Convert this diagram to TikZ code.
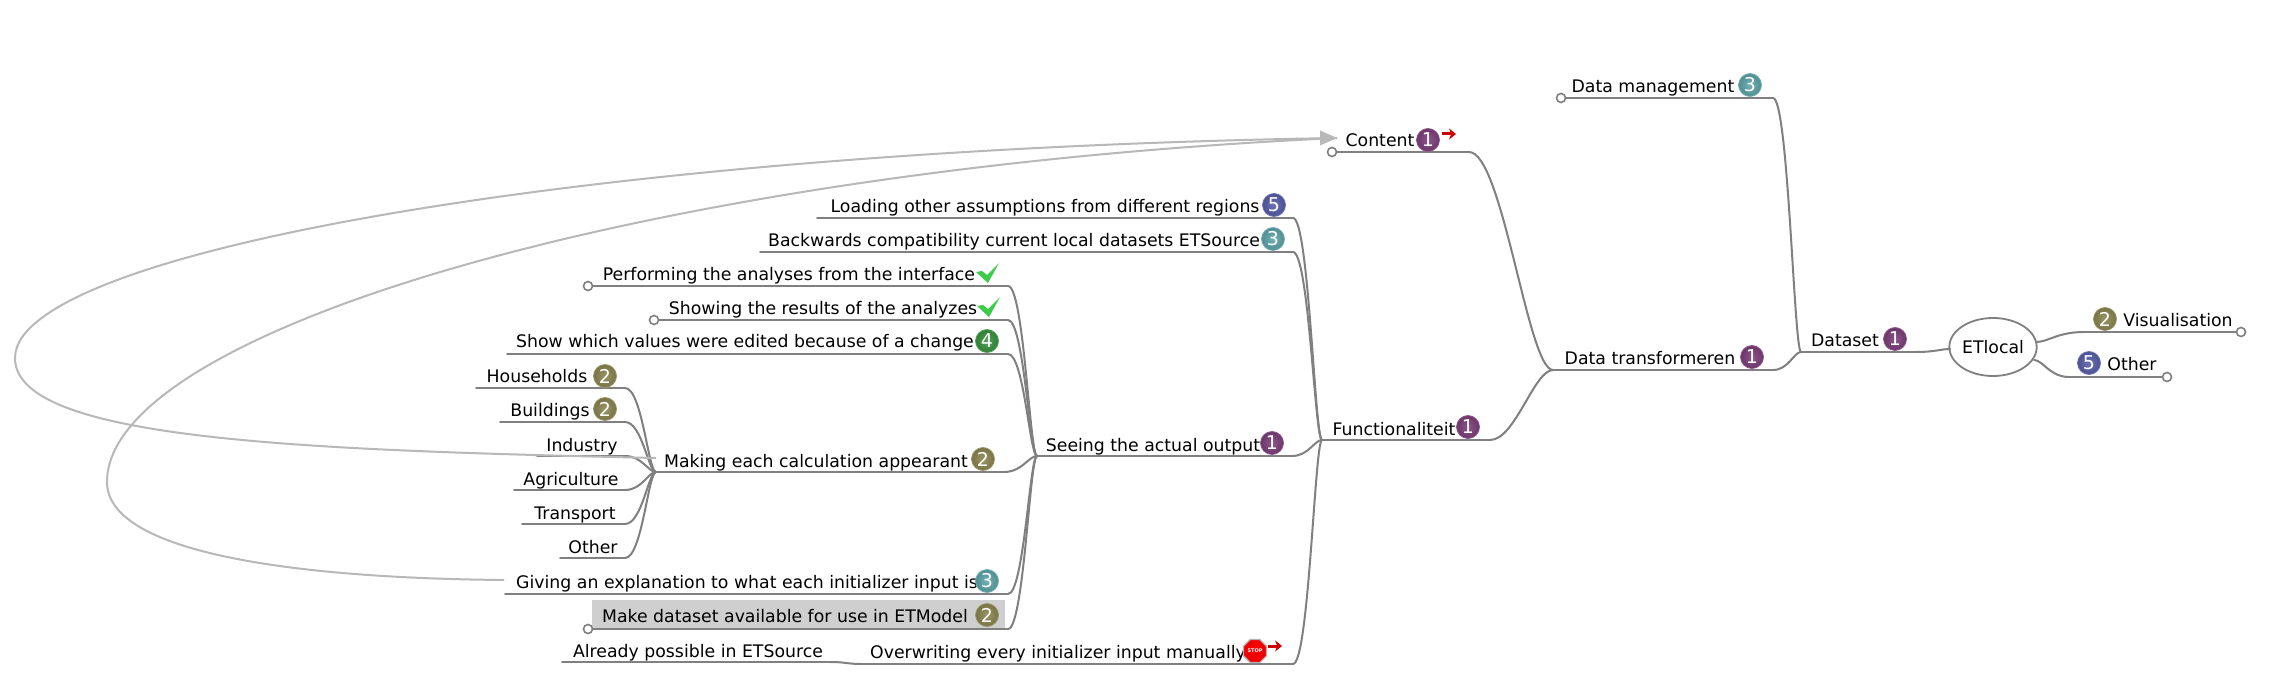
\documentclass[tikz,border=0pt]{standalone}
\usepackage{fontspec}
\setmainfont{DejaVu Sans}
\usetikzlibrary{calc,arrows.meta,shapes.geometric}
\definecolor{edgegray}{HTML}{808080}
\definecolor{relgray}{HTML}{B8B8B8}
\definecolor{hl}{HTML}{CFCFCF}
\definecolor{pa}{HTML}{7E3F7C}
\definecolor{pb}{HTML}{8C8750}
\definecolor{pc}{HTML}{5FA6AA}
\definecolor{pd}{HTML}{3A9440}
\definecolor{pe}{HTML}{585EAA}
\definecolor{tickgreen}{HTML}{3DCB4A}
\tikzset{
  edge/.style={draw=edgegray,line width=2pt,line cap=round},
  branch/.style={to path={let \p1=(\tikztostart),\p2=(\tikztotarget) in
    .. controls ({\x1+0.55*(\x2-\x1)},\y1) and ({\x1+0.75*(\x2-\x1)},\y2) .. (\tikztotarget)}},
  widebranch/.style={to path={let \p1=(\tikztostart),\p2=(\tikztotarget) in
    .. controls ({\x1+0.4*(\x2-\x1)},\y1) and ({\x1+0.7*(\x2-\x1)},\y2) .. (\tikztotarget)}},
  label/.style={inner sep=0pt,anchor=base,font=\fontsize{17.3}{20}\selectfont,text=black},
  ballicon/.style={circle,inner sep=0pt,minimum size=23pt,text=white,font=\fontsize{19}{20}\selectfont},
  endcircle/.style={circle,draw=edgegray,fill=white,line width=1.6pt,inner sep=0pt,minimum size=9pt},
  relation/.style={draw=relgray,line width=2pt},
  redarrow/.style={draw=red!80!black,line width=3pt,-{Stealth[length=7pt,width=11pt]}},
}
\newcommand{\topic}[7]{%
  \coordinate (#1L) at (#2,#4);
  \coordinate (#1R) at (#3,#4);
  \draw[edge] (#1L) -- (#1R);
  \node[label] (#1) at (#5,#6) {#7};
}
\newcommand{\icon}[5]{\node[ballicon,draw=#4!85!white,line width=0.8pt,inner color=#4!88!white,outer color=#4!85!black] (#1) at (#2,#3) {#5};}
\newcommand{\tick}[3]{\node[inner sep=0pt,minimum size=0pt] (#1) at (#2,#3) {};
  \fill[tickgreen] (#2-11,#3-1) -- (#2-5,#3-2) -- (#2,#3+2) -- (#2+12,#3-10) -- (#2+1,#3+10) -- cycle;}
\begin{document}
\begin{tikzpicture}[x=1pt,y=-1pt]
\useasboundingbox (0,0) rectangle (2294,700);
\fill[white] (0,0) rectangle (2294,700);
\fill[hl] (592,600) rectangle (1005,628);

% topics
\topic{dm}{1561}{1773}{98}{1653}{93}{Data management}
\topic{ct}{1332}{1469}{152}{1380}{147}{Content}
\topic{dt}{1553}{1773}{370}{1650}{365}{Data transformeren}
\topic{ds}{1801}{1916}{352}{1845}{347}{Dataset}
\topic{vi}{2084}{2241}{332}{2178}{327}{Visualisation}
\topic{ot}{2069}{2167}{377}{2132}{371}{Other}
\topic{fu}{1322}{1490}{440}{1394}{435}{Functionaliteit}
\topic{lo}{817}{1293}{218}{1045}{213}{Loading other assumptions from different regions}
\topic{ba}{760}{1293}{252}{1014}{247}{Backwards compatibility current local datasets ETSource}
\topic{pe}{588}{1008}{286}{789}{281}{Performing the analyses from the interface}
\topic{sh}{654}{1008}{320}{823}{315}{Showing the results of the analyzes}
\topic{sw}{507}{1008}{354}{745}{348}{Show which values were edited because of a change}
\topic{ho}{476}{625}{388}{537}{383}{Households}
\topic{bu}{500}{625}{422}{550}{417}{Buildings}
\topic{in}{537}{625}{456}{582}{451}{Industry}
\topic{ag}{514}{625}{490}{571}{485}{Agriculture}
\topic{tr}{522}{625}{524}{575}{519}{Transport}
\topic{oh}{560}{625}{558}{593}{553}{Other}
\topic{ma}{656}{1004}{472}{816}{467}{Making each calculation appearant}
\topic{se}{1037}{1292}{456}{1153}{451}{Seeing the actual output}
\topic{gi}{505}{1008}{594}{747}{588}{Giving an explanation to what each initializer input is}
\topic{mk}{588}{1008}{629}{785}{622}{Make dataset available for use in ETModel}
\topic{ov}{861}{1293}{664}{1058}{658}{Overwriting every initializer input manually}
\topic{al}{562}{831}{662}{698}{657}{Already possible in ETSource}

% root
\node[ellipse,draw=edgegray,fill=white,line width=1.8pt,minimum width=87pt,minimum height=58pt,inner sep=0pt,
  font=\fontsize{17.3}{20}\selectfont] (root) at (1993,347) {ETlocal};
\coordinate (rootL) at (1950,349);
\coordinate (rootRa) at (2036,342);
\coordinate (rootRb) at (2034,360);

% branches
\draw[edge] (dmR) to[branch] (dsL);
\draw[edge] (ctR) to[widebranch] (dtL);
\draw[edge] (fuR) to[widebranch] (dtL);
\draw[edge] (dtR) to[branch] (dsL);
\draw[edge] (dsR) to[branch] (rootL);
\draw[edge] (viL) to[branch] (rootRa);
\draw[edge] (otL) to[branch] (rootRb);
\draw[edge] (loR) to[branch] (fuL);
\draw[edge] (baR) to[branch] (fuL);
\draw[edge] (seR) to[branch] (fuL);
\draw[edge] (ovR) to[branch] (fuL);
\draw[edge] (peR) to[branch] (seL);
\draw[edge] (shR) to[branch] (seL);
\draw[edge] (swR) to[branch] (seL);
\draw[edge] (maR) to[branch] (seL);
\draw[edge] (giR) to[branch] (seL);
\draw[edge] (mkR) to[branch] (seL);
\draw[edge] (hoR) to[branch] (maL);
\draw[edge] (buR) to[branch] (maL);
\draw[edge] (inR) to[branch] (maL);
\draw[edge] (agR) to[branch] (maL);
\draw[edge] (trR) to[branch] (maL);
\draw[edge] (ohR) to[branch] (maL);
\draw[edge] (alR) .. controls (845,662) and (848,664) .. (ovL);

% fold circles
\node[endcircle] (c1) at (dmL) {};
\node[endcircle] (c2) at (ctL) {};
\node[endcircle] (c3) at (viR) {};
\node[endcircle] (c4) at (otR) {};
\node[endcircle] (c5) at (peL) {};
\node[endcircle] (c6) at (shL) {};
\node[endcircle] (c7) at (mkL) {};

% relations
\coordinate (relA) at (656,458);
\coordinate (relAm) at (15,358);
\coordinate (relB) at (504,580);
\coordinate (relBm) at (107,482);
\coordinate (relEnd) at (1337,138);
\draw[relation] (relA) .. controls (300,450) and (15,440) .. (relAm)
   .. controls (15,250) and (600,150) .. (relEnd);
\draw[relation] (relB) .. controls (280,578) and (107,550) .. (relBm)
   .. controls (107,330) and (650,170) .. (relEnd);
\fill[relgray] (relEnd) -- (1320,130.5) -- (1320,145.5) -- cycle;

% icons
\icon{i1}{1750}{85}{pc}{3}
\icon{i2}{1428}{140}{pa}{1}
\icon{i3}{1752}{357}{pa}{1}
\icon{i4}{1895}{339}{pa}{1}
\icon{i5}{2105}{319}{pb}{2}
\icon{i6}{2089}{363}{pe}{5}
\icon{i7}{1468}{427}{pa}{1}
\icon{i8}{1274}{205}{pe}{5}
\icon{i9}{1273}{239}{pc}{3}
\icon{i10}{987}{341}{pd}{4}
\icon{i11}{605}{376}{pb}{2}
\icon{i12}{605}{409}{pb}{2}
\icon{i13}{983}{459}{pb}{2}
\icon{i14}{1272}{443}{pa}{1}
\icon{i15}{987}{581}{pc}{3}
\icon{i16}{987}{615}{pb}{2}
\tick{t1}{987}{273}
\tick{t2}{988}{307}

% stop
\node[regular polygon,regular polygon sides=8,fill=red!95!black,draw=gray!60,line width=1.2pt,minimum size=25pt,inner sep=0pt,
  text=white,font=\fontsize{5}{5}\selectfont\bfseries] (stop) at (1255,651) {STOP};

% red arrows
\coordinate (ra1a) at (1442,134);
\coordinate (ra1b) at (1456,134);
\draw[redarrow] (ra1a) -- (ra1b);
\coordinate (ra2a) at (1268,646);
\coordinate (ra2b) at (1282,646);
\draw[redarrow] (ra2a) -- (ra2b);
\end{tikzpicture}
\end{document}
